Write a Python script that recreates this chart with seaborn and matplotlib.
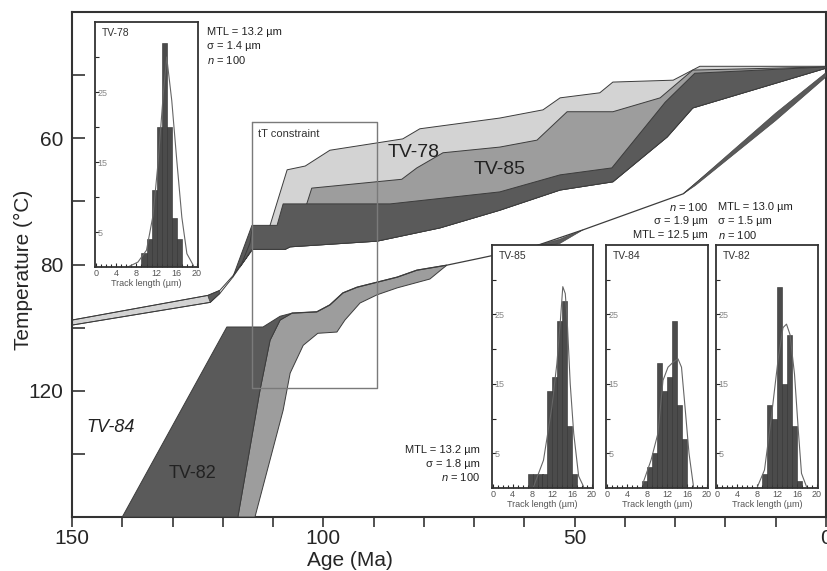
import numpy as np
import pandas as pd
import matplotlib
matplotlib.use("Agg")
import matplotlib.pyplot as plt
import seaborn as sns
from matplotlib.ticker import FixedLocator, NullFormatter

# ---------------- data: thermal-history envelopes (Age Ma, Temperature °C) ----------------
light_top_age = [110.6, 107.2, 103.6, 98.7, 84.2, 80.8, 64.9, 56.3, 52.9, 45.0, 42.4, 30.4, 25.1, 0.0]
light_top_temp = [73.8, 65.0, 64.4, 61.9, 60.1, 58.5, 56.8, 55.5, 53.6, 52.8, 51.1, 50.8, 48.6, 48.6]

mid_top_age = [103.3, 102.3, 84.4, 81.4, 76.2, 64.9, 57.5, 51.5, 42.4, 33.0, 26.5, 0.0]
mid_top_temp = [70.4, 67.9, 66.5, 64.7, 62.3, 61.4, 60.3, 55.8, 55.8, 53.6, 49.2, 48.7]

dark_top_age = [118.0, 114.2, 109.2, 108.0, 86.7, 64.9, 52.9, 42.6, 32.0, 26.1, 0.0]
dark_top_temp = [82.0, 73.8, 73.8, 70.4, 70.4, 68.5, 65.8, 64.7, 54.3, 49.7, 48.7]

dark_bot_age = [118.0, 116.6, 114.2, 107.6, 106.6, 89.3, 76.8, 64.9, 52.9, 42.4, 31.6, 26.5, 0.0]
dark_bot_temp = [82.0, 80.4, 77.6, 77.6, 77.2, 76.3, 74.2, 71.4, 68.2, 66.9, 59.8, 55.2, 48.9]

tail_top_age = [150.0, 123.0, 120.6, 118.0, 116.2, 114.6, 114.2]
tail_top_temp = [88.8, 84.9, 84.1, 81.8, 79.8, 76.6, 74.5]
tail_bot_age = [150.0, 122.5, 120.6, 118.0]
tail_bot_temp = [89.6, 86.0, 84.6, 82.0]

tv82_age = [140.0, 119.2, 112.0, 108.6, 106.2, 108.6, 110.6, 112.6, 117.0]
tv82_temp = [120.0, 89.9, 89.9, 88.2, 87.7, 88.8, 92.0, 99.9, 120.0]

tv84_age = [117.0, 112.6, 110.6, 108.6, 106.2, 101.3, 98.7, 96.1, 93.3, 89.3, 85.3, 81.4, 75.4,
            76.2, 78.8, 85.3, 89.3, 92.7, 95.7, 97.3, 101.1, 104.0, 106.6, 108.0, 113.6]
tv84_temp = [120.0, 99.9, 92.0, 88.8, 87.7, 87.5, 86.4, 84.5, 83.6, 82.8, 82.0, 80.9, 80.1,
             80.6, 82.3, 83.7, 84.8, 86.1, 88.8, 90.7, 90.9, 92.8, 97.2, 103.1, 120.0]

low_line_age = [106.2, 101.3, 98.7, 96.1, 93.3, 89.3, 85.3, 81.4, 75.4, 68.8, 58.3, 48.3, 28.4, 0.0]
low_line_temp = [87.7, 87.5, 86.4, 84.5, 83.6, 82.8, 82.0, 80.9, 80.1, 79.0, 77.2, 74.5, 68.8, 50.0]

sliver1_age = [60.0, 53.0, 48.3, 53.0]
sliver1_temp = [77.5, 76.0, 74.5, 76.7]
sliver2_age = [28.4, 10.0, 0.0, 0.0, 10.0, 26.0]
sliver2_temp = [68.8, 56.0, 49.6, 50.3, 57.2, 67.5]

constraint_age = [114.2, 89.3]
constraint_temp = [57.4, 99.6]

# ---------------- data: track-length histograms ----------------
bin_edges = list(range(0, 21))
tv78_len = [9.5, 10.5, 11.5, 12.5, 13.5, 14.5, 15.5, 16.5]
tv78_cnt = [2, 4, 11, 20, 32, 20, 7, 4]
tv85_len = [7.5, 8.5, 9.5, 10.5, 11.5, 12.5, 13.5, 14.5, 15.5, 16.5]
tv85_cnt = [2, 2, 2, 2, 14, 16, 24, 27, 9, 2]
tv84_len = [7.5, 8.5, 9.5, 10.5, 11.5, 12.5, 13.5, 14.5, 15.5]
tv84_cnt = [1, 3, 5, 18, 14, 16, 24, 12, 7]
tv82_len = [9.5, 10.5, 11.5, 12.5, 13.5, 14.5, 15.5, 16.5]
tv82_cnt = [2, 12, 10, 29, 15, 22, 9, 1]

tv78_cx = [6.3, 8.3, 10.0, 11.3, 12.3, 13.3, 14.0, 15.0, 16.0, 17.0, 18.0, 19.3]
tv78_cy = [0.0, 0.7, 2.4, 7.4, 15.0, 24.5, 30.0, 23.8, 15.2, 7.1, 1.9, 0.2]
tv85_cx = [8.2, 10.2, 11.9, 12.9, 13.6, 14.1, 14.6, 15.0, 15.6, 16.3, 17.3, 18.3]
tv85_cy = [0.2, 4.0, 11.7, 17.9, 24.0, 29.0, 28.0, 24.0, 15.0, 7.9, 1.7, 0.2]
tv84_cx = [7.1, 8.8, 10.2, 11.2, 12.2, 13.2, 14.2, 14.9, 15.6, 16.4, 17.3]
tv84_cy = [0.5, 4.0, 7.9, 15.5, 17.4, 18.1, 18.6, 17.4, 11.7, 5.0, 0.2]
tv82_cx = [8.1, 9.5, 10.8, 12.2, 13.2, 13.9, 14.6, 15.5, 16.3, 16.9, 17.9]
tv82_cy = [0.2, 2.6, 9.8, 18.4, 23.1, 23.6, 22.1, 16.4, 7.9, 2.1, 0.2]

x_ticks = list(range(0, 151, 10))
x_labels = {150: "150", 100: "100", 50: "50", 0: "0"}
y_ticks = [50, 60, 70, 80, 90, 100, 110]
y_labels = ["", "60", "", "80", "", "120", ""]

# ---------------- style ----------------
sns.set_theme(style="white")
plt.rcParams["font.family"] = ["Liberation Sans", "DejaVu Sans"]
plt.rcParams["mathtext.fontset"] = "custom"
plt.rcParams["mathtext.it"] = "Liberation Sans:italic"
plt.rcParams["mathtext.rm"] = "Liberation Sans"

LIGHT, MID, DARK = "#d3d3d3", "#9d9d9d", "#5a5a5a"
EDGE = "#3c3c3c"
W, H = 828, 571

fig = plt.figure(figsize=(W / 100, H / 100), dpi=100)
ax = fig.add_axes([72 / W, 54 / H, 754 / W, 505 / H])

def poly(xs, ys, fc, lw=0.7, z=2):
    ax.fill(xs, ys, facecolor=fc, edgecolor=EDGE, linewidth=lw, zorder=z)

# upper envelope group
poly(light_top_age + dark_bot_age[::-1][:-1], light_top_temp + dark_bot_temp[::-1][:-1], LIGHT)
poly(mid_top_age + dark_bot_age[::-1][:-2], mid_top_temp + dark_bot_temp[::-1][:-2], MID, z=3)
poly(dark_top_age + dark_bot_age[::-1], dark_top_temp + dark_bot_temp[::-1], DARK, z=4)

# tail to the left
poly(tail_top_age[:2] + [121.5] + tail_bot_age[:2][::-1], tail_top_temp[:2] + [85.2] + tail_bot_temp[:2][::-1], LIGHT, lw=0.6)
poly(tail_top_age[1:3] + tail_bot_age[1:3][::-1], tail_top_temp[1:3] + tail_bot_temp[1:3][::-1], DARK, lw=0.5)
sns.lineplot(x=tail_top_age, y=tail_top_temp, sort=False, color=EDGE, lw=0.7, ax=ax, zorder=5)
sns.lineplot(x=tail_bot_age, y=tail_bot_temp, sort=False, color=EDGE, lw=0.7, ax=ax, zorder=5)

# lower envelope group
poly(tv84_age, tv84_temp, MID, z=3)
poly(tv82_age, tv82_temp, DARK, z=4)
sns.lineplot(x=low_line_age, y=low_line_temp, sort=False, color=EDGE, lw=0.9, ax=ax, zorder=5)
poly(sliver1_age, sliver1_temp, DARK, lw=0.4, z=5)
poly(sliver2_age, sliver2_temp, DARK, lw=0.4, z=5)

# tT constraint box
ca, ct = constraint_age, constraint_temp
ax.plot([ca[0], ca[1], ca[1], ca[0], ca[0]], [ct[0], ct[0], ct[1], ct[1], ct[0]],
        color="#7a7a7a", lw=1.0, zorder=6)
ax.text(ca[0] - 1.3, ct[0] + 1.1, "tT constraint", fontsize=8, va="top", ha="left", color="#333", zorder=7)

# sample labels
ax.text(82.0, 62.3, "TV-78", fontsize=14, ha="center", va="center", color="#222", zorder=7)
ax.text(64.9, 65.0, "TV-85", fontsize=14, ha="center", va="center", color="#222", zorder=7)
ax.text(142.4, 105.8, "TV-84", fontsize=13, ha="center", va="center", style="italic", color="#222", zorder=7)
ax.text(126.1, 113.1, "TV-82", fontsize=13, ha="center", va="center", color="#222", zorder=7)

ax.set_xlim(150, 0)
ax.set_ylim(120, 40)
ax.xaxis.set_major_locator(FixedLocator(x_ticks))
ax.set_xticklabels([x_labels.get(t, "") for t in x_ticks])
ax.yaxis.set_major_locator(FixedLocator(y_ticks))
ax.set_yticklabels(y_labels)
ax.tick_params(axis="x", direction="out", length=7, width=1.2, color="#333", labelsize=15, pad=2,
               bottom=True)
ax.tick_params(axis="y", direction="in", length=9, width=1.2, color="#333", labelsize=15, pad=6,
               left=True)
for s in ax.spines.values():
    s.set_color("#333")
    s.set_linewidth(1.5)
ax.set_xlabel("Age (Ma)", fontsize=15)
ax.xaxis.set_label_coords(0.369, -0.068)
ax.set_ylabel("Temperature (°C)", fontsize=15)
ax.yaxis.set_label_coords(-0.052, 0.49)

# ---------------- insets ----------------
def inset(px, name, lens, cnts, cx, cy):
    l, t, r, b = px
    a = fig.add_axes([l / W, 1 - b / H, (r - l) / W, (b - t) / H])
    a.set_facecolor("white")
    df = pd.DataFrame({"length": lens, "count": cnts})
    sns.histplot(data=df, x="length", weights="count", bins=bin_edges, color="#4b4b4b",
                 edgecolor="#2e2e2e", linewidth=0.4, alpha=1, ax=a)
    sns.lineplot(x=cx, y=cy, sort=False, color="#666", lw=0.8, ax=a)
    a.set_xlim(-0.2, 20.2)
    a.set_ylim(0, 35)
    a.xaxis.set_major_locator(FixedLocator([0, 4, 8, 12, 16, 20]))
    a.xaxis.set_minor_locator(FixedLocator(list(range(0, 21))))
    a.yaxis.set_major_locator(FixedLocator([5, 15, 25]))
    a.yaxis.set_minor_locator(FixedLocator([10, 20, 30]))
    a.set_yticklabels(["5", "15", "25"])
    for lab in a.get_yticklabels():
        lab.set_ha("left")
    a.tick_params(axis="x", which="major", direction="in", length=3, width=0.8, labelsize=6.5,
                  labelcolor="#555", pad=1.5, bottom=True)
    a.tick_params(axis="x", which="minor", direction="in", length=2.5, width=0.8, bottom=True)
    a.tick_params(axis="y", which="major", direction="in", length=3, width=0.8, labelsize=6.5,
                  labelcolor="#888", pad=-2, left=True)
    a.tick_params(axis="y", which="minor", direction="in", length=3, width=0.8, left=True)
    a.set_xlabel("Track length (µm)", fontsize=6.5, color="#555", labelpad=1)
    a.set_ylabel("")
    for s in a.spines.values():
        s.set_color("#333")
        s.set_linewidth(1.3)
    a.text(0.07, 0.975, name, transform=a.transAxes, fontsize=7.5, va="top", ha="left", color="#333")
    return a

inset((95, 22, 198, 267), "TV-78", tv78_len, tv78_cnt, tv78_cx, tv78_cy)
inset((492, 245, 593, 488), "TV-85", tv85_len, tv85_cnt, tv85_cx, tv85_cy)
inset((606, 245, 708, 488), "TV-84", tv84_len, tv84_cnt, tv84_cx, tv84_cy)
inset((716, 245, 818, 488), "TV-82", tv82_len, tv82_cnt, tv82_cx, tv82_cy)

def stats(x, ys, lines, ha):
    for y, s in zip(ys, lines):
        fig.text(x / W, 1 - y / H, s, fontsize=8, ha=ha, va="center", color="#222")

stats(207, [32, 46, 60], ["MTL = 13.2 µm", "σ = 1.4 µm", "$n$ = 100"], "left")
stats(480, [450, 464, 477], ["MTL = 13.2 µm", "σ = 1.8 µm", "$n$ = 100"], "right")
stats(708, [207, 221, 235], ["$n$ = 100", "σ = 1.9 µm", "MTL = 12.5 µm"], "right")
stats(718, [207, 221, 235], ["MTL = 13.0 µm", "σ = 1.5 µm", "$n$ = 100"], "left")

fig.savefig("out.png", dpi=100, facecolor="white")
